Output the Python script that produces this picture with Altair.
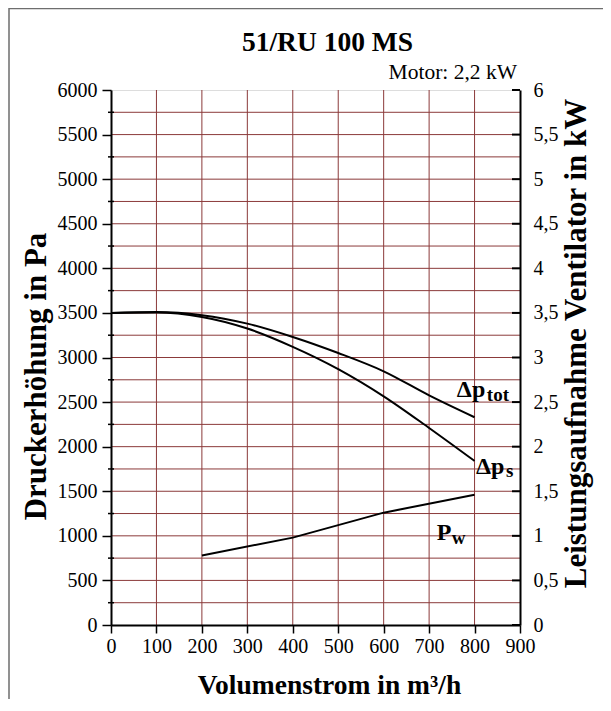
import altair as alt
import pandas as pd

# ---- data ----
flow = [0, 100, 200, 300, 400, 500, 600, 700, 800]
dp_tot = [3500, 3510, 3475, 3380, 3230, 3050, 2845, 2575, 2330]
dp_s = [3500, 3505, 3455, 3325, 3120, 2870, 2565, 2210, 1840]
pw_flow = [200, 400, 600, 800]
pw_kw = [0.78, 0.98, 1.26, 1.46]

x_ticks = list(range(0, 1000, 100))
x_grid = list(range(100, 900, 100))
pa_major = list(range(0, 6001, 500))
pa_minor = list(range(250, 6000, 500))
pa_grid = list(range(250, 6000, 250))
kw_ticks = [i * 0.5 for i in range(13)]

title_text = "51/RU 100 MS"
motor_text = "Motor: 2,2 kW"
x_title = "Volumenstrom in m³/h"
y_left_title = "Druckerhöhung in Pa"
y_right_title = "Leistungsaufnahme Ventilator in kW"

lab_main = ["Δp", "Δp", "P"]
lab_x = [761, 803, 717]
lab_y = [2555, 1696, 948]
lab_sub = ["tot", "s", "w"]
lab_sub_x = [827, 869, 750]
lab_sub_y = [2510, 1660, 903]

# ---- style ----
FONT = "Liberation Serif"
W, H = 409, 535
GRID = "#8b3a3a"

xs = alt.Scale(domain=[0, 900], nice=False)
pa_scale = alt.Scale(domain=[0, 6000], nice=False)
kw_scale = alt.Scale(domain=[0, 6], nice=False)

df_pa = pd.DataFrame({
    "flow": flow + flow,
    "pa": dp_tot + dp_s,
    "series": ["tot"] * len(flow) + ["s"] * len(flow),
})
df_pw = pd.DataFrame({"flow": pw_flow, "kw": pw_kw})
df_lab = pd.DataFrame({"t": lab_main, "x": lab_x, "y": lab_y})
df_sub = pd.DataFrame({"t": lab_sub, "x": lab_sub_x, "y": lab_sub_y})

INT_LABEL = "format(datum.value, 'd')"

x_axis = alt.Axis(
    orient="bottom", values=x_ticks, labelExpr=INT_LABEL, grid=False, zindex=1,
    domainColor="black", domainWidth=2, tickColor="black", tickWidth=1.5, tickSize=8,
    labelFont=FONT, labelFontSize=20, labelColor="black", labelPadding=3,
    labelFlush=False, labelOverlap=False,
    title=x_title, titleFont=FONT, titleFontSize=27.5, titleFontWeight="bold", titleColor="black",
    titleX=218, titleY=46, titleAlign="center",
)

left_axis = alt.Axis(
    orient="left", values=pa_major, labelExpr=INT_LABEL, grid=False, zindex=1,
    ticks=True, tickSize=9, tickColor="black", tickWidth=1.5,
    domainColor="black", domainWidth=2,
    labelFont=FONT, labelFontSize=20, labelColor="black", labelPadding=5,
    labelOverlap=False, labelFlush=False,
    title=y_left_title, titleFont=FONT, titleFontSize=31, titleFontWeight="bold", titleColor="black",
    titleAngle=270, titleX=-75, titleY=286, titleBaseline="middle", titleAlign="center",
)

right_axis = alt.Axis(
    orient="right", values=kw_ticks, zindex=1,
    labelExpr="replace(format(datum.value, '.1~f'), '.', ',')",
    grid=False, ticks=False, domainColor="black", domainWidth=2,
    labelFont=FONT, labelFontSize=20, labelColor="black", labelPadding=13,
    labelOverlap=False, labelFlush=False,
    title=y_right_title, titleFont=FONT, titleFontSize=31, titleFontWeight="bold", titleColor="black",
    titleAngle=270, titleX=56, titleY=253, titleBaseline="middle", titleAlign="center",
)


def X(field):
    return alt.X(field, scale=xs, axis=x_axis)


def YP(field):
    return alt.Y(field, scale=pa_scale, axis=left_axis)


def YK(field):
    return alt.Y(field, scale=kw_scale, axis=right_axis)


frame = alt.Chart(pd.DataFrame({"a": [0]})).mark_rect(
    filled=False, color="#6e6e6e", strokeWidth=1.5
).encode(
    x=alt.value(-102), x2=alt.value(W + 120),
    y=alt.value(-81.5), y2=alt.value(H + 120),
)

vgrid = alt.Chart(pd.DataFrame({"g": x_grid})).mark_rule(color=GRID, strokeWidth=1).encode(
    x=X("g:Q"), y=alt.value(0), y2=alt.value(H),
)
hgrid = alt.Chart(pd.DataFrame({"g": pa_grid})).mark_rule(color=GRID, strokeWidth=1).encode(
    y=YP("g:Q"), x=alt.value(0), x2=alt.value(W),
)
minor_ticks = alt.Chart(pd.DataFrame({"g": pa_minor})).mark_rule(color="black", strokeWidth=1.5).encode(
    y=YP("g:Q"), x=alt.value(-3), x2=alt.value(3),
)

pa_lines = alt.Chart(df_pa).mark_line(color="black", strokeWidth=2, interpolate="monotone").encode(
    x=X("flow:Q"), y=YP("pa:Q"), detail="series:N",
)

labels_main = alt.Chart(df_lab).mark_text(
    font=FONT, fontSize=24, fontWeight="bold", color="black", align="left", baseline="alphabetic"
).encode(x=X("x:Q"), y=YP("y:Q"), text="t:N")

labels_sub = alt.Chart(df_sub).mark_text(
    font=FONT, fontSize=19, fontWeight="bold", color="black", align="left", baseline="alphabetic"
).encode(x=X("x:Q"), y=YP("y:Q"), text="t:N")

title_mark = alt.Chart(pd.DataFrame({"t": [title_text], "x": [450], "y": [6000]})).mark_text(
    font=FONT, fontSize=27.5, fontWeight="bold", color="black", align="center",
    baseline="alphabetic", dx=12, dy=-39,
).encode(x=X("x:Q"), y=YP("y:Q"), text="t:N")

motor_mark = alt.Chart(pd.DataFrame({"t": [motor_text], "x": [900], "y": [6000]})).mark_text(
    font=FONT, fontSize=21.5, color="black", align="right",
    baseline="alphabetic", dx=-3, dy=-11,
).encode(x=X("x:Q"), y=YP("y:Q"), text="t:N")

pw_line = alt.Chart(df_pw).mark_line(color="black", strokeWidth=2).encode(
    x=X("flow:Q"), y=YK("kw:Q"),
)
right_ticks = alt.Chart(pd.DataFrame({"g": kw_ticks})).mark_rule(color="black", strokeWidth=2).encode(
    y=YK("g:Q"), x=alt.value(W - 8), x2=alt.value(W),
)

pa_group = alt.layer(frame, vgrid, hgrid, minor_ticks, pa_lines, labels_main, labels_sub,
                     title_mark, motor_mark)
kw_group = alt.layer(pw_line, right_ticks)

chart = alt.layer(pa_group, kw_group).resolve_scale(y="independent").properties(
    width=W, height=H,
    padding={"left": 103, "top": 82, "right": 83, "bottom": 74},
    autosize=alt.AutoSizeParams(type="none"),
).configure_view(stroke=None).configure(background="white")

chart.save("out.html", embed_options={"renderer": "svg", "actions": False})
